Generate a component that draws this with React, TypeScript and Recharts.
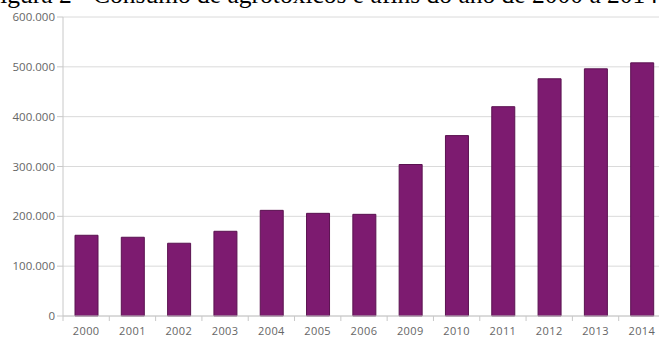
import { BarChart, Bar, XAxis, YAxis, CartesianGrid } from 'recharts'

// Consumo de agrotóxicos e afins, 2000–2014
const years = ['2000', '2001', '2002', '2003', '2004', '2005', '2006', '2009', '2010', '2011', '2012', '2013', '2014']
const consumo = [162000, 158000, 146000, 170000, 212000, 206000, 204000, 304000, 362000, 420000, 476000, 496000, 508000]
const yTicks = [0, 100000, 200000, 300000, 400000, 500000, 600000]

const chartData = years.map((year, i) => ({ year, consumo: consumo[i] }))

const formatThousands = (v: number) => (v === 0 ? '0' : `${v / 1000}.000`)

function YearTick(props: any) {
  const { x, y, payload, width } = props
  const band = width / years.length
  return (
    <g>
      <line x1={x - band / 2} y1={y - 8} x2={x - band / 2} y2={y - 3} stroke="#c8c8c8" />
      <text
        x={x}
        y={y + 11}
        textAnchor="middle"
        fill="#666"
        fontSize={11}
        letterSpacing={0.4}
        fontFamily="'Open Sans', sans-serif"
      >
        {payload.value}
      </text>
    </g>
  )
}

export default function App() {
  return (
    <div
      style={{
        position: 'fixed',
        left: 0,
        top: 0,
        width: 659,
        height: 337,
        overflow: 'hidden',
        background: '#fff'
      }}
    >
      <div
        style={{
          position: 'absolute',
          left: -14,
          top: -19,
          whiteSpace: 'nowrap',
          fontFamily: "'Liberation Serif', 'Times New Roman', serif",
          fontSize: 25.5,
          lineHeight: '28px',
          color: '#000'
        }}
      >
        Figura 2 - Consumo de agrotóxicos e afins do ano de 2000 a 2014
      </div>
      <BarChart
        width={665}
        height={337}
        data={chartData}
        margin={{ top: 17, right: 0, bottom: 0, left: 0 }}
        barSize={23}
        style={{ position: 'absolute', left: 0, top: 0 }}
      >
        <CartesianGrid vertical={false} stroke="#dadada" />
        <XAxis
          dataKey="year"
          height={21}
          axisLine={{ stroke: '#c8c8c8' }}
          tickLine={false}
          tick={<YearTick />}
          interval={0}
        />
        <YAxis
          width={63}
          domain={[0, 600000]}
          ticks={yTicks}
          tickFormatter={formatThousands}
          axisLine={{ stroke: '#c8c8c8' }}
          tickLine={{ stroke: '#c8c8c8' }}
          tickSize={6}
          tickMargin={2}
          tick={{ fill: '#666', fontSize: 11.5, fontFamily: "'Open Sans', sans-serif" }}
        />
        <Bar dataKey="consumo" fill="#7d1b70" stroke="#5a1250" strokeWidth={1} isAnimationActive={false} />
      </BarChart>
    </div>
  )
}
